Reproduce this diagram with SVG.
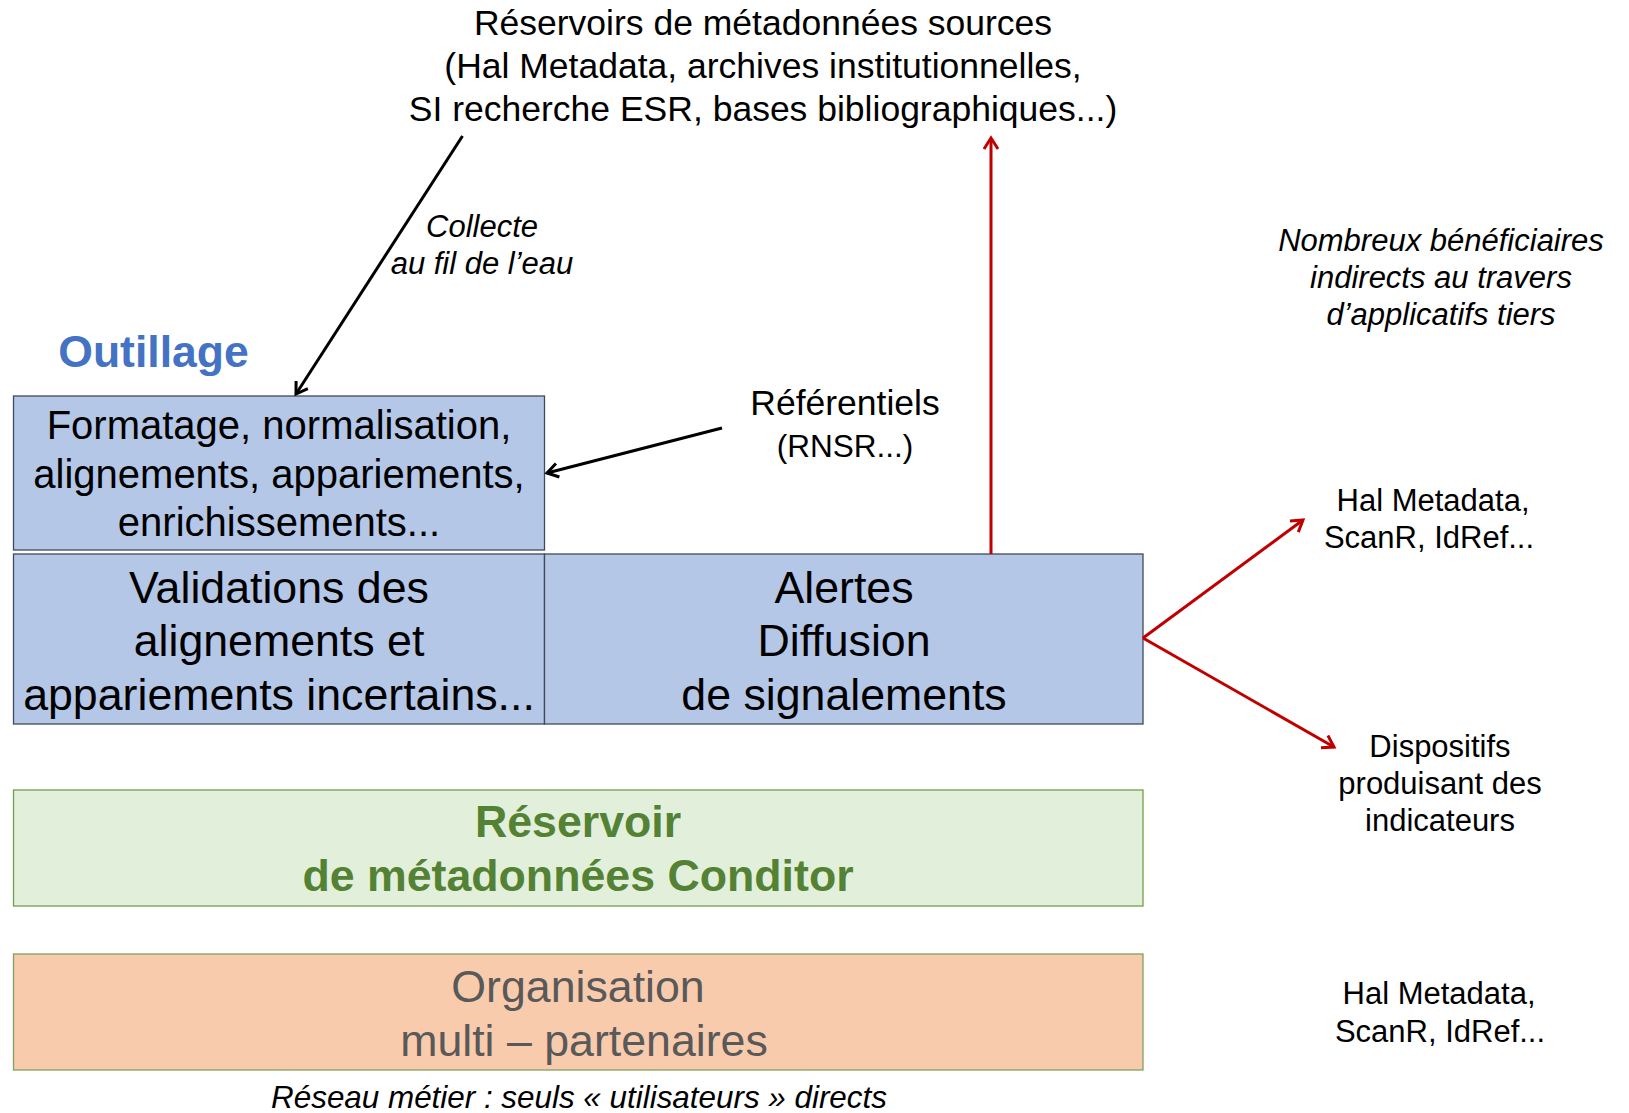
<svg xmlns="http://www.w3.org/2000/svg" width="1629" height="1113" viewBox="0 0 1629 1113">
<defs>
<style>
text{font-family:"Liberation Sans",Arial,sans-serif;text-anchor:middle;fill:#000}
.box{fill:#B4C7E7;stroke:#3F4A5A;stroke-width:1.3}
.t44{font-size:44.7px}
.t40{font-size:40px}
.t35{font-size:35.5px}
.t31{font-size:31px}
.it{font-style:italic}
.blk{stroke:#000;stroke-width:3;fill:none}
.red{stroke:#C00000;stroke-width:3;fill:none}
</style>
<marker id="ab" markerUnits="userSpaceOnUse" markerWidth="20" markerHeight="20" refX="13" refY="8" orient="auto" viewBox="0 0 20 16">
<path d="M2,1 L13,8 L2,15" fill="none" stroke="#000" stroke-width="3"/>
</marker>
<marker id="ar" markerUnits="userSpaceOnUse" markerWidth="20" markerHeight="20" refX="13" refY="8" orient="auto" viewBox="0 0 20 16">
<path d="M2,1 L13,8 L2,15" fill="none" stroke="#C00000" stroke-width="3"/>
</marker>
</defs>
<rect width="1629" height="1113" fill="#fff"/>

<g id="sources">
<text class="t35" x="763" y="35">Réservoirs de métadonnées sources</text>
<text class="t35" x="763" y="78">(Hal Metadata, archives institutionnelles,</text>
<text class="t35" x="763" y="121">SI recherche ESR, bases bibliographiques...)</text>
</g>

<g id="outillage-label">
<text x="153.5" y="367" style="font-size:44.5px;font-weight:bold;fill:#4472C4">Outillage</text>
</g>

<g id="collecte-label">
<text class="t31 it" x="482" y="237">Collecte</text>
<text class="t31 it" x="482" y="274">au fil de l’eau</text>
</g>

<g id="referentiels">
<text class="t35" x="845" y="415">Référentiels</text>
<text x="845" y="457" style="font-size:31.5px">(RNSR...)</text>
</g>

<g id="beneficiaires">
<text class="t31 it" x="1441" y="251">Nombreux bénéficiaires</text>
<text class="t31 it" x="1441" y="288">indirects au travers</text>
<text class="t31 it" x="1441" y="325">d’applicatifs tiers</text>
</g>

<g id="formatage">
<rect class="box" x="13.5" y="396" width="531" height="154"/>
<text class="t40" x="279" y="439">Formatage, normalisation,</text>
<text class="t40" x="279" y="488">alignements, appariements,</text>
<text class="t40" x="279" y="536">enrichissements...</text>
</g>

<g id="validations">
<rect class="box" x="13.5" y="554" width="531" height="170"/>
<text class="t44" x="279" y="603">Validations des</text>
<text class="t44" x="279" y="656">alignements et</text>
<text class="t44" x="279" y="710">appariements incertains...</text>
</g>

<g id="alertes">
<rect class="box" x="544.5" y="554" width="598.5" height="170"/>
<text class="t44" x="844" y="603">Alertes</text>
<text class="t44" x="844" y="656">Diffusion</text>
<text class="t44" x="844" y="710">de signalements</text>
</g>

<g id="reservoir">
<rect x="13.5" y="790" width="1129.5" height="116" fill="#E2EFDA" stroke="#70A04B" stroke-width="1.3"/>
<text class="t44" x="578" y="837" style="font-weight:bold;fill:#548235">Réservoir</text>
<text class="t44" x="578" y="891" style="font-weight:bold;fill:#548235">de métadonnées Conditor</text>
</g>

<g id="organisation">
<rect x="13.5" y="954" width="1129.5" height="116" fill="#F8CBAD" stroke="#7FA35E" stroke-width="1.3"/>
<text class="t44" x="578" y="1002" style="fill:#595959">Organisation</text>
<text class="t44" x="584" y="1056" style="fill:#595959">multi – partenaires</text>
</g>

<g id="reseau-label">
<text class="it" x="579" y="1108" style="font-size:31.4px">Réseau métier : seuls « utilisateurs » directs</text>
</g>

<g id="hal-top">
<text class="t31" x="1433" y="511">Hal Metadata,</text>
<text class="t31" x="1429" y="548">ScanR, IdRef...</text>
</g>

<g id="dispositifs">
<text class="t31" x="1440" y="757">Dispositifs</text>
<text class="t31" x="1440" y="794">produisant des</text>
<text class="t31" x="1440" y="831">indicateurs</text>
</g>

<g id="hal-bottom">
<text class="t31" x="1439" y="1004">Hal Metadata,</text>
<text class="t31" x="1440" y="1042">ScanR, IdRef...</text>
</g>

<g id="connectors">
<line class="blk" x1="462.5" y1="136" x2="296" y2="394" marker-end="url(#ab)"/>
<line class="blk" x1="722" y1="428" x2="547" y2="473" marker-end="url(#ab)"/>
<line class="red" x1="991" y1="554" x2="991" y2="138" marker-end="url(#ar)"/>
<line class="red" x1="1143" y1="638" x2="1303" y2="520" marker-end="url(#ar)"/>
<line class="red" x1="1143" y1="638" x2="1334" y2="747" marker-end="url(#ar)"/>
</g>
</svg>
